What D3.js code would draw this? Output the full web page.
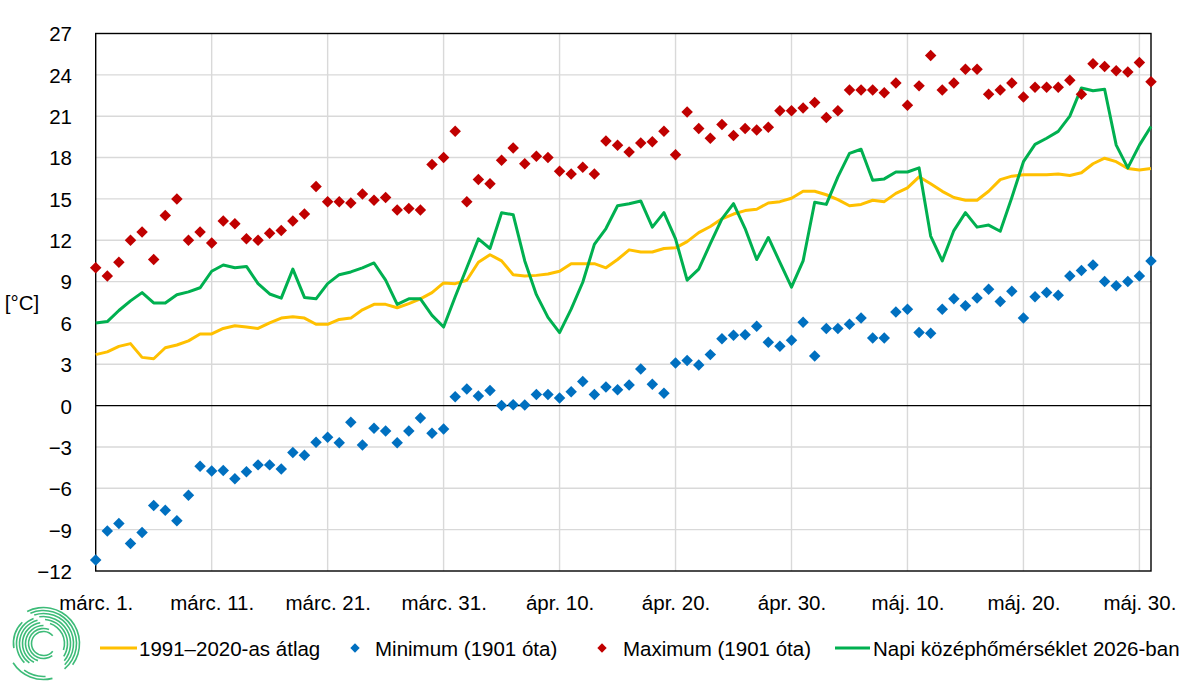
<!DOCTYPE html>
<html>
<head>
<meta charset="utf-8">
<script src="https://cdn.jsdelivr.net/npm/d3@7"></script>
<style>
  html, body { margin: 0; padding: 0; background: #fff; }
  svg { display: block; }
  text { font-family: "Liberation Sans", Arial, sans-serif; fill: #000; }
</style>
</head>
<body>
<svg id="chart" width="1200" height="685"></svg>
<script>
// ---- data (1 March – 31 May, 92 days) ----
const startDate = new Date(2026, 2, 1);
const endDate = new Date(2026, 4, 31);

const avg1991_2020 = [
  3.7, 3.9, 4.3, 4.5, 3.5, 3.4, 4.2, 4.4, 4.7, 5.2,
  5.2, 5.6, 5.8, 5.7, 5.6, 6.0, 6.35, 6.45, 6.35, 5.9,
  5.9, 6.25, 6.35, 6.95, 7.35, 7.35, 7.1, 7.4, 7.75, 8.2,
  8.9, 8.85, 9.1, 10.4, 10.95, 10.5, 9.5, 9.4, 9.45, 9.55,
  9.75, 10.3, 10.3, 10.3, 10.0, 10.6, 11.3, 11.15, 11.15, 11.4,
  11.45, 11.9, 12.55, 13.0, 13.55, 13.9, 14.15, 14.25, 14.7, 14.8,
  15.05, 15.55, 15.55, 15.3, 14.95, 14.5, 14.6, 14.9, 14.8, 15.4,
  15.8, 16.6, 16.1, 15.55, 15.1, 14.9, 14.9, 15.55, 16.4, 16.65,
  16.75, 16.75, 16.75, 16.8, 16.7, 16.9, 17.55, 17.95, 17.7, 17.2,
  17.1, 17.2
];

const minimum1901 = [
  -11.2, -9.1, -8.55, -10.0, -9.2, -7.25, -7.6, -8.35, -6.5, -4.4,
  -4.75, -4.7, -5.3, -4.8, -4.3, -4.3, -4.6, -3.4, -3.6, -2.65,
  -2.3, -2.7, -1.2, -2.85, -1.65, -1.85, -2.7, -1.85, -0.9, -2.0,
  -1.7, 0.65, 1.2, 0.7, 1.1, 0.0, 0.07, 0.05, 0.8, 0.8,
  0.55, 1.0, 1.75, 0.8, 1.35, 1.15, 1.5, 2.65, 1.55, 0.9,
  3.1, 3.27, 2.95, 3.7, 4.85, 5.1, 5.15, 5.75, 4.6, 4.3,
  4.75, 6.05, 3.6, 5.6, 5.6, 5.9, 6.35, 4.9, 4.9, 6.8,
  7.0, 5.3, 5.25, 7.0, 7.75, 7.25, 7.8, 8.45, 7.55, 8.3,
  6.35, 7.9, 8.2, 8.0, 9.4, 9.8, 10.2, 9.0, 8.7, 9.0,
  9.4, 10.5
];

const maximum1901 = [
  10.0, 9.4, 10.4, 12.0, 12.6, 10.6, 13.8, 15.0, 12.0, 12.6,
  11.8, 13.4, 13.2, 12.1, 12.0, 12.5, 12.7, 13.4, 13.9, 15.9,
  14.8, 14.8, 14.7, 15.35, 14.9, 15.1, 14.2, 14.3, 14.2, 17.5,
  18.0, 19.9, 14.8, 16.4, 16.1, 17.8, 18.7, 17.55, 18.1, 18.0,
  17.0, 16.8, 17.3, 16.8, 19.2, 18.9, 18.4, 19.05, 19.15, 19.9,
  18.2, 21.3, 20.1, 19.4, 20.4, 19.6, 20.1, 20.0, 20.2, 21.4,
  21.4, 21.6, 22.0, 20.9, 21.4, 22.9, 22.9, 22.9, 22.7, 23.4,
  21.8, 23.2, 25.4, 22.9, 23.4, 24.4, 24.4, 22.6, 22.9, 23.4,
  22.4, 23.1, 23.1, 23.1, 23.6, 22.6, 24.8, 24.6, 24.3, 24.2,
  24.9, 23.5
];

const daily2026 = [
  6.0, 6.1, 6.9, 7.6, 8.2, 7.45, 7.45, 8.05, 8.25, 8.55,
  9.75, 10.2, 10.0, 10.1, 8.85, 8.1, 7.8, 9.9, 7.85, 7.75,
  8.85, 9.5, 9.7, 10.0, 10.35, 9.1, 7.35, 7.75, 7.75, 6.55,
  5.7, 7.9, 10.0, 12.1, 11.4, 14.0, 13.85, 10.5, 8.05, 6.4,
  5.3, 7.0, 8.95, 11.7, 12.85, 14.5, 14.65, 14.85, 12.95, 14.0,
  12.1, 9.1, 9.9, 11.75, 13.55, 14.65, 12.85, 10.6, 12.2, 10.4,
  8.6, 10.5, 14.75, 14.6, 16.6, 18.3, 18.6, 16.35, 16.45, 16.95,
  16.95, 17.25, 12.3, 10.5, 12.7, 14.0, 12.95, 13.1, 12.65, 15.1,
  17.7, 18.95, 19.4, 19.9, 21.0, 23.05, 22.85, 22.95, 18.9, 17.25,
  18.9, 20.25
];

const yTicks = [-12, -9, -6, -3, 0, 3, 6, 9, 12, 15, 18, 21, 24, 27];
const xTickLabels = ["márc. 1.", "márc. 11.", "márc. 21.", "márc. 31.", "ápr. 10.",
                     "ápr. 20.", "ápr. 30.", "máj. 10.", "máj. 20.", "máj. 30."];
const seriesNames = ["1991–2020-as átlag", "Minimum (1901 óta)", "Maximum (1901 óta)",
                     "Napi középhőmérséklet 2026-ban"];
const yAxisTitle = "[°C]";

// ---- build ----
const days = d3.timeDay.range(startDate, d3.timeDay.offset(endDate, 1));
const colors = { avg: "#FFC000", min: "#0070C0", max: "#C00000", cur: "#00B050" };
const FS = 20.5;

const svg = d3.select("#chart");
const L = 95.7, R = 1151, T = 33.5, B = 571;

const x = d3.scaleTime().domain([startDate, endDate]).range([L, R]);
const y = d3.scaleLinear().domain([-12, 27]).range([B, T]);

const xTickDates = d3.range(0, 10).map(k => d3.timeDay.offset(startDate, k * 10));

// gridlines
const grid = svg.append("g");
grid.selectAll("line.h").data(yTicks.filter(v => v !== 0 && v !== -12 && v !== 27)).join("line")
  .attr("x1", L).attr("x2", R).attr("y1", d => y(d)).attr("y2", d => y(d))
  .attr("stroke", "#d9d9d9").attr("stroke-width", 1.4);
grid.selectAll("line.v").data(xTickDates.slice(1)).join("line")
  .attr("x1", d => x(d)).attr("x2", d => x(d)).attr("y1", T).attr("y2", B)
  .attr("stroke", "#d9d9d9").attr("stroke-width", 1.4);

// zero line
svg.append("line").attr("x1", L).attr("x2", R).attr("y1", y(0)).attr("y2", y(0))
  .attr("stroke", "#000").attr("stroke-width", 1.4);

// plot border
svg.append("rect").attr("x", L).attr("y", T).attr("width", R - L).attr("height", B - T)
  .attr("fill", "none").attr("stroke", "#000").attr("stroke-width", 1.4);

// y axis labels
const yAxis = d3.axisLeft(y).tickValues(yTicks).tickSize(0).tickPadding(0).tickFormat(d3.format("d"));
const yg = svg.append("g").attr("transform", `translate(72,0)`).call(yAxis);
yg.select(".domain").remove();
yg.selectAll("text").attr("font-size", FS).attr("font-family", "Liberation Sans, Arial, sans-serif")
  .attr("fill", "#000").attr("dy", "0.36em").attr("x", 0).style("text-anchor", "end");

// x axis labels
const xAxis = d3.axisBottom(x).tickValues(xTickDates).tickSize(0).tickPadding(0)
  .tickFormat((d, i) => xTickLabels[i]);
const xg = svg.append("g").attr("transform", `translate(0,${B})`).call(xAxis);
xg.select(".domain").remove();
xg.selectAll("text").attr("font-size", FS).attr("font-family", "Liberation Sans, Arial, sans-serif")
  .attr("fill", "#000").attr("y", 39).attr("dy", 0);

// y title
svg.append("text").attr("x", 22).attr("y", 310).attr("text-anchor", "middle")
  .attr("font-size", FS).text(yAxisTitle);

// lines
const lineGen = d3.line().x((d, i) => x(days[i])).y(d => y(d));
svg.append("path").datum(avg1991_2020).attr("d", lineGen)
  .attr("fill", "none").attr("stroke", colors.avg).attr("stroke-width", 3).attr("stroke-linejoin", "round");
svg.append("path").datum(daily2026).attr("d", lineGen)
  .attr("fill", "none").attr("stroke", colors.cur).attr("stroke-width", 3).attr("stroke-linejoin", "round");

// diamonds
const diamond = d3.symbol().type(d3.symbolSquare).size(66);
function drawDiamonds(data, color) {
  svg.append("g").selectAll("path").data(data).join("path")
    .attr("d", diamond)
    .attr("transform", (d, i) => `translate(${x(days[i])},${y(d)}) rotate(45)`)
    .attr("fill", color);
}
drawDiamonds(minimum1901, colors.min);
drawDiamonds(maximum1901, colors.max);

// legend
const lg = svg.append("g");
const legendY = 648;
lg.append("line").attr("x1", 100).attr("x2", 137).attr("y1", legendY).attr("y2", legendY)
  .attr("stroke", colors.avg).attr("stroke-width", 3);
lg.append("text").attr("x", 139).attr("y", legendY + 7.5).attr("font-size", FS).text(seriesNames[0]);
lg.append("path").attr("d", d3.symbol().type(d3.symbolSquare).size(44))
  .attr("transform", `translate(355,${legendY}) rotate(45)`).attr("fill", colors.min);
lg.append("text").attr("x", 375).attr("y", legendY + 7.5).attr("font-size", FS).text(seriesNames[1]);
lg.append("path").attr("d", d3.symbol().type(d3.symbolSquare).size(44))
  .attr("transform", `translate(602,${legendY}) rotate(45)`).attr("fill", colors.max);
lg.append("text").attr("x", 623).attr("y", legendY + 7.5).attr("font-size", FS).text(seriesNames[2]);
lg.append("line").attr("x1", 835).attr("x2", 870).attr("y1", legendY).attr("y2", legendY)
  .attr("stroke", colors.cur).attr("stroke-width", 3);
lg.append("text").attr("x", 873).attr("y", legendY + 7.5).attr("font-size", FS).text(seriesNames[3]);

// logo (concentric arcs)
const defs = svg.append("defs");
const grad = defs.append("linearGradient").attr("id", "logoGrad")
  .attr("gradientUnits", "userSpaceOnUse").attr("x1", 0).attr("y1", 606).attr("x2", 0).attr("y2", 682);
grad.append("stop").attr("offset", "0%").attr("stop-color", "#3dbb78");
grad.append("stop").attr("offset", "100%").attr("stop-color", "#2a8bcb");
const logo = svg.append("g").attr("transform", "translate(43.5,643.5)");
const arcs = [
  { r: 12, a0: 0.72, a1: 2.28 },
  { r: 15, a0: 0.8, a1: 2.12 },
  { r: 18, a0: 1.1, a1: 2.0 },
  { r: 21, a0: 1.15, a1: 1.95 },
  { r: 24, a0: 1.2, a1: 1.92 },
  { r: 27, a0: 1.25, a1: 1.88 },
  { r: 21, a0: 0.1, a1: 0.6 },
  { r: 24, a0: 0.02, a1: 0.68 },
  { r: 27, a0: -0.05, a1: 0.72 },
  { r: 30, a0: -0.1, a1: 0.75 },
  { r: 33, a0: -0.13, a1: 0.78 },
  { r: 36, a0: -0.15, a1: 0.7 },
  { r: 36, a0: 0.92, a1: 1.32 },
  { r: 33, a0: 0.98, a1: 1.2 },
  { r: 30, a0: 1.45, a1: 1.75 }
];
const arcGen = d3.arc();
logo.selectAll("path").data(arcs).join("path")
  .attr("d", d => arcGen({ innerRadius: d.r - 0.8, outerRadius: d.r + 0.8,
                           startAngle: d.a0 * Math.PI, endAngle: d.a1 * Math.PI }))
  .attr("fill", "url(#logoGrad)");
</script>
</body>
</html>
